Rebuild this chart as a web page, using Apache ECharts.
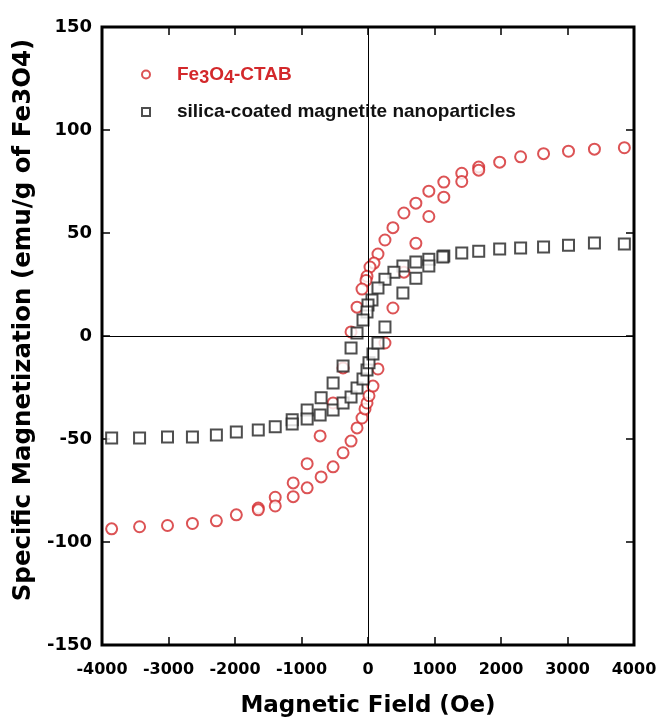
<!DOCTYPE html>
<html>
<head>
<meta charset="utf-8">
<script src="https://cdn.jsdelivr.net/npm/echarts@6/dist/echarts.min.js"></script>
<style>
  html, body { margin: 0; padding: 0; background: #fff; }
  #chart { width: 661px; height: 720px; }
</style>
</head>
<body>
<div id="chart"></div>
<script>
// Fe3O4-CTAB loop: upper branch (+H -> -H), then lower branch (-H -> +H)
const ctabH = [3855, 3405, 3015, 2640, 2295, 1980, 1665, 1410, 1140, 915, 720, 540, 375, 255, 150, 90, 30, -15, -30, -90, -165, -255, -375, -525, -720, -915, -1125, -1395, -1650, -1980, -2280, -2640, -3015, -3435, -3855,
  -1650, -1395, -1125, -915, -705, -525, -375, -255, -165, -90, -45, -15, 15, 75, 150, 255, 375, 540, 720, 915, 1140, 1410, 1665]
const ctabM = [91.4, 90.7, 89.7, 88.5, 87, 84.4, 82, 79, 74.7, 70.3, 64.5, 59.7, 52.6, 46.6, 39.8, 35.4, 33.5, 29, 27, 22.8, 14, 2, -15.5, -32.5, -48.5, -62, -71.3, -78.3, -83.5, -86.8, -89.7, -91, -92, -92.6, -93.6,
  -84.4, -82.5, -78, -73.7, -68.4, -63.5, -56.7, -51, -44.6, -39.8, -35.4, -32.5, -29, -24.3, -16, -3.4, 13.6, 31, 45, 58, 67.4, 75, 80.5]

// silica-coated magnetite nanoparticles
const silicaH = [3855, 3405, 3015, 2640, 2295, 1980, 1665, 1410, 1140, 915, 720, 525, 390, 255, 150, 60, 0, -15, -75, -165, -255, -375, -525, -705, -915, -1140, -1395, -1650, -1980, -2280, -2640, -3015, -3435, -3855,
  -1140, -915, -720, -525, -375, -255, -165, -75, -15, 15, 75, 150, 255, 525, 720, 915, 1125]
const silicaM = [44.6, 45.1, 44.1, 43.2, 42.7, 42.2, 41.2, 40.3, 38.8, 37.3, 35.9, 34, 31, 27.6, 23.3, 17.5, 15, 11.6, 7.8, 1.5, -5.8, -14.6, -22.8, -30, -35.9, -40.7, -44, -45.6, -46.6, -48, -49, -49, -49.5, -49.5,
  -42.7, -40.3, -38.3, -35.9, -32.5, -29.6, -25.2, -20.9, -16.5, -13, -8.7, -3.4, 4.4, 20.9, 28, 34, 38.3]

const seriesNames = ['Fe3O4-CTAB', 'silica-coated magnetite nanoparticles']
const xTicks = { min: -4000, max: 4000, interval: 1000 }
const yTicks = { min: -150, max: 150, interval: 50 }

const red = '#d3282b'

function pairs(xs, ys) {
  return xs.map((x, i) => [x, ys[i]])
}

const chart = echarts.init(document.getElementById('chart'))

const tickStyle = { show: true, inside: true, length: 8, lineStyle: { color: '#000', width: 1.5 } }

chart.setOption({
  animation: false,
  backgroundColor: '#fff',
  grid: {
    left: 102,
    right: 27,
    top: 27,
    bottom: 75,
    outerBoundsMode: 'none',
    show: true,
    borderColor: '#000',
    borderWidth: 3,
    backgroundColor: 'transparent'
  },
  legend: {
    orient: 'vertical',
    left: 136,
    top: 60,
    itemWidth: 8,
    itemHeight: 8,
    itemGap: 15,
    data: [
      { name: seriesNames[0], textStyle: { color: red } },
      { name: seriesNames[1], textStyle: { color: '#111' } }
    ],
    formatter: function (name) {
      if (name === seriesNames[0]) {
        return '{g| }{r|Fe}{rs|3}{r|O}{rs|4}{r|-CTAB}'
      }
      return '{g| }{k|' + name + '}'
    },
    textStyle: {
      fontFamily: 'Liberation Sans',
      fontSize: 19,
      fontWeight: 'bold',
      rich: {
        g: { width: 22 },
        r: { color: red, fontFamily: 'Liberation Sans', fontSize: 19, fontWeight: 'bold' },
        rs: { color: red, fontFamily: 'Liberation Sans', fontSize: 18, fontWeight: 'bold', padding: [8, 0, 0, 0] },
        k: { color: '#111', fontFamily: 'Liberation Sans', fontSize: 19, fontWeight: 'bold' }
      }
    }
  },
  xAxis: [
    {
      type: 'value',
      min: xTicks.min,
      max: xTicks.max,
      interval: xTicks.interval,
      position: 'bottom',
      name: 'Magnetic Field (Oe)',
      nameLocation: 'middle',
      nameGap: 50,
      nameTextStyle: { fontFamily: 'DejaVu Sans', fontSize: 23, fontWeight: 'bold', color: '#000' },
      axisLine: { show: false, onZero: false },
      axisTick: tickStyle,
      axisLabel: {
        fontFamily: 'DejaVu Sans',
        fontSize: 16,
        fontWeight: 'bold',
        color: '#000',
        margin: 17,
        formatter: (v) => String(v)
      },
      splitLine: { show: false }
    },
    {
      type: 'value',
      min: xTicks.min,
      max: xTicks.max,
      interval: xTicks.interval,
      position: 'top',
      axisLine: { show: false, onZero: false },
      axisTick: tickStyle,
      axisLabel: { show: false },
      splitLine: { show: false }
    }
  ],
  yAxis: [
    {
      type: 'value',
      min: yTicks.min,
      max: yTicks.max,
      interval: yTicks.interval,
      position: 'left',
      name: 'Specific Magnetization (emu/g of Fe3O4)',
      nameLocation: 'middle',
      nameGap: 62,
      nameTextStyle: {
        fontFamily: 'DejaVu Sans',
        fontSize: 24.5,
        fontWeight: 'bold',
        color: '#000',
        padding: [0, 0, 0, 32]
      },
      axisLine: { show: false, onZero: false },
      axisTick: tickStyle,
      axisLabel: { fontFamily: 'DejaVu Sans', fontSize: 18, fontWeight: 'bold', color: '#000', margin: 10 },
      splitLine: { show: false }
    },
    {
      type: 'value',
      min: yTicks.min,
      max: yTicks.max,
      interval: yTicks.interval,
      position: 'right',
      axisLine: { show: false, onZero: false },
      axisTick: tickStyle,
      axisLabel: { show: false },
      splitLine: { show: false }
    }
  ],
  series: [
    {
      name: seriesNames[0],
      type: 'scatter',
      symbol: 'emptyCircle',
      symbolSize: 11,
      itemStyle: { color: red, borderColor: red, borderWidth: 1.5 },
      data: pairs(ctabH, ctabM),
      markLine: {
        silent: true,
        symbol: 'none',
        label: { show: false },
        lineStyle: { color: '#000', width: 1, type: 'solid' },
        data: [{ xAxis: 0 }, { yAxis: 0 }]
      }
    },
    {
      name: seriesNames[1],
      type: 'scatter',
      symbol: 'emptyRect',
      symbolSize: 11,
      itemStyle: { color: '#222', borderColor: '#222', borderWidth: 1.5 },
      data: pairs(silicaH, silicaM)
    }
  ]
})
</script>
</body>
</html>
